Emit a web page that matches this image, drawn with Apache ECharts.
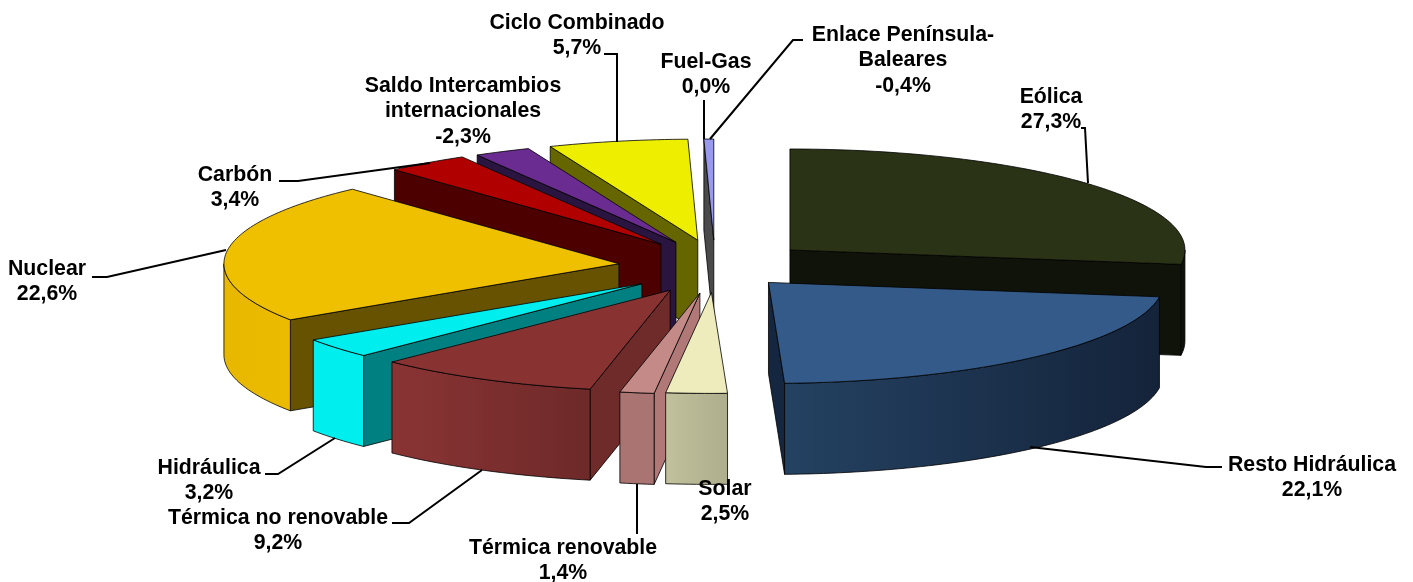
<!DOCTYPE html>
<html><head><meta charset="utf-8">
<style>html,body{margin:0;padding:0;background:#fff}#c{width:1413px;height:582px}</style>
<script src="https://cdn.jsdelivr.net/npm/echarts@6/dist/echarts.min.js"></script>
</head><body><div id="c"></div>
<script>
// ---- data (clockwise from 12 o'clock) ----
const categories = ['Eólica','Resto Hidráulica','Solar','Térmica renovable','Térmica no renovable','Hidráulica','Nuclear','Carbón','Saldo Intercambios\ninternacionales','Ciclo Combinado','Fuel-Gas','Enlace Península-\nBaleares'];
const values = [27.3,22.1,2.5,1.4,9.2,3.2,22.6,3.4,-2.3,5.7,0.0,-0.4];
// ---- styling ----
const topColors  = ['#2a3316','#335a88','#eeecbd','#c48a87','#893232','#00eeee','#eec000','#b00000','#6a2c91','#eeee00','#888888','#9999ee'];
const cutColors  = ['#10130a','#152740','#b0af8e','#b07977','#6f2a2a','#008080','#665200','#4c0000','#2a1540','#666600','#444444','#4a4a4a'];
const wallLeft   = ['#10130a','#244262','#c2c19d','#a97472','#8a3434','#00eeee','#e8b800','#4c0000','#2a1540','#666600','#444444','#4a4a4a'];
const wallRight  = ['#0c0f07','#14233a','#aead8c','#a97472','#6e2929','#00eeee','#eabb00','#4c0000','#2a1540','#666600','#444444','#4a4a4a'];
const explodeX   = [0.251,0.202,0.24,0.24,0.24,0.24,0.245,0.231,0.225,0.215,0.24,0.245];
const explodeY   = [0.236,0.189,0.231,0.24,0.24,0.24,0.245,0.257,0.25,0.249,0.24,0.245];
const drawOrder  = [11,9,8,7,10,6,5,4,3,2,0,1];
// ---- layout ----
const CX=715, CY=267, RX=395, RY=101, EXPLODE_RY=110, DEPTH=91;
const labelCenters = [[1051,97],[1312,465],[725,489],[563,548],[278,518],[209,468],[47,269],[235,175],[463,86],[577,23],[706,62],[903,35]];
const leaderLines = [
 [[1081,128],[1085,128],[1088,183]],
 [[1222,467],[1206,467],[1030,447]],
 null,
 [[637,484],[637,534]],
 [[392,523],[409,523],[482,470]],
 [[265,474],[278,474],[335,438]],
 [[92,277],[107,277],[226,250]],
 [[279,181],[298,181],[430,163]],
 null,
 [[604,54],[617,54],[617,142]],
 [[704,100],[704,139]],
 [[803,40],[793,40],[710,139]]
];
const total = values.reduce((s,v)=>s+Math.abs(v),0);
const fmt = v => v.toFixed(1).replace('.',',')+'%';
const angles=[]; { let a=0; values.forEach(v=>{const b=a+Math.abs(v)/total*2*Math.PI; angles.push([a,b]); a=b;}); }

function renderSlice(params, api){
  const i = api.value(0);
  const [a,b] = angles[i];
  if (b-a < 1e-6) return {type:'group',children:[]};
  const m=(a+b)/2;
  const ax=CX+explodeX[i]*RX*Math.sin(m), ay=CY-explodeY[i]*EXPLODE_RY*Math.cos(m);
  const pt=(t,d)=>[ax+RX*Math.sin(t), ay-RY*Math.cos(t)+(d||0)];
  const arc=(s,f,d)=>{const n=Math.max(2,Math.ceil((f-s)/0.02)); const r=[]; for(let k=0;k<=n;k++) r.push(pt(s+(f-s)*k/n,d)); return r;};
  const kids=[];
  const stroke={stroke:'#000',lineWidth:0.8};
  const poly=(points,fill)=>kids.push({type:'polygon',shape:{points},style:Object.assign({fill},stroke)});
  // cut faces that look toward the viewer
  if (Math.sin(a)<0) poly([[ax,ay],pt(a),pt(a,DEPTH),[ax,ay+DEPTH]],cutColors[i]);
  if (Math.sin(b)>0) poly([[ax,ay],pt(b),pt(b,DEPTH),[ax,ay+DEPTH]],cutColors[i]);
  // outer wall (front half of the ellipse only)
  const s=Math.max(a,Math.PI/2), f=Math.min(b,Math.PI*1.5);
  if (f>s){
    const top=arc(s,f,0), bot=arc(s,f,DEPTH).reverse();
    kids.push({type:'polygon',shape:{points:top.concat(bot)},style:Object.assign({
      fill:new echarts.graphic.LinearGradient(0,0,1,0,[{offset:0,color:wallLeft[i]},{offset:1,color:wallRight[i]}])},stroke)});
  }
  // top face
  poly([[ax,ay]].concat(arc(a,b,0)),topColors[i]);
  return {type:'group',children:kids};
}

const labelFont={fontFamily:'"Liberation Sans",Arial,sans-serif',fontWeight:'bold',fontSize:21.3};
const graphics=[];
leaderLines.forEach(l=>{ if(l) graphics.push({type:'polyline',z:50,shape:{points:l},style:{stroke:'#000',lineWidth:2,fill:null}}); });
categories.forEach((n,i)=>{
  graphics.push({type:'text',z:100,x:labelCenters[i][0],y:labelCenters[i][1]-12.5,
    style:Object.assign({text:n+'\n'+fmt(values[i]),fill:'#000',align:'center',verticalAlign:'top',lineHeight:25.4},labelFont)});
});

const chart=echarts.init(document.getElementById('c'),null,{renderer:'canvas'});
chart.setOption({
  animation:false,backgroundColor:'#fff',
  series:[{type:'custom',coordinateSystem:'none',z:2,renderItem:renderSlice,
    data:drawOrder.map(i=>({name:categories[i],value:[i,Math.abs(values[i])]}))}],
  graphic:{elements:graphics}
});
</script></body></html>
